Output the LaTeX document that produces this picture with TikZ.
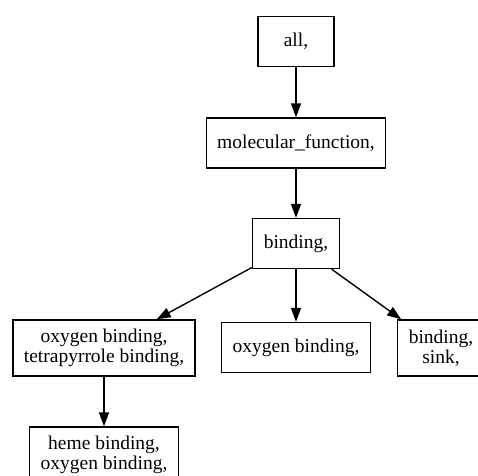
\documentclass[tikz,border=0pt]{standalone}
\usepackage{fontspec}
\setmainfont{Liberation Serif}
\usetikzlibrary{arrows.meta}

\tikzset{
  term/.style={draw=black, line width=1.4pt, fill=white, align=center,
    inner xsep=11pt, inner ysep=2pt, minimum width=76pt, minimum height=50pt,
    font=\fontsize{19.5}{20.5}\selectfont},
  twoline/.style={term, minimum height=56pt},
  isa/.style={-{Triangle[length=14pt,width=10pt]}, draw=black, line width=1.4pt}
}

\begin{document}
\begin{tikzpicture}[x=1pt, y=-1pt]
  \useasboundingbox[fill=white] (0,0) rectangle (478,475);
  \clip (0,0) rectangle (478,475);

  \node[term] (all) at (296,41.5) {all,};
  \node[term] (molfunc) at (296,143) {molecular\_function,};
  \node[term] (binding) at (296,243.5) {binding,};
  \node[twoline] (tetrapyrrole) at (104,348) {oxygen binding,\\tetrapyrrole binding,};
  \node[term] (oxygen) at (296,347.5) {oxygen binding,};
  \node[twoline] (sink) at (441,348) {binding,\\sink,};
  \node[twoline] (heme) at (104,455) {heme binding,\\oxygen binding,};

  \path[isa] (all) -- (molfunc);
  \path[isa] (molfunc) -- (binding);
  \path[isa] (binding) -- (tetrapyrrole);
  \path[isa] (binding) -- (oxygen);
  \path[isa] (binding) -- (sink);
  \path[isa] (tetrapyrrole) -- (heme);
\end{tikzpicture}
\end{document}
